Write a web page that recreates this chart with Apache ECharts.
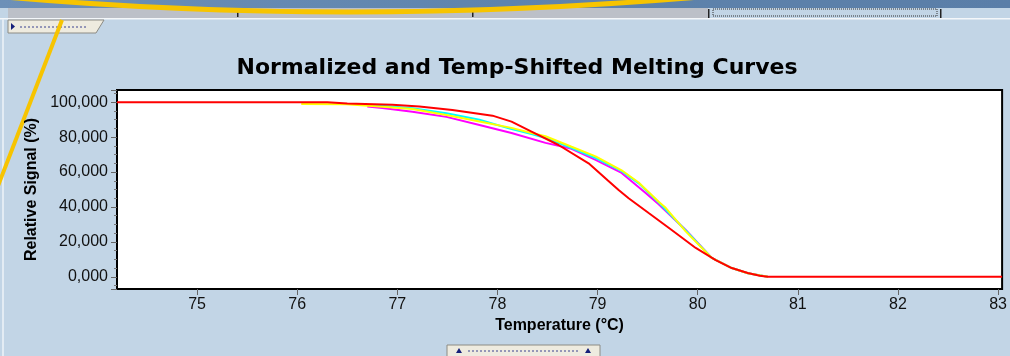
<!DOCTYPE html>
<html>
<head>
<meta charset="utf-8">
<script src="https://cdn.jsdelivr.net/npm/echarts@6/dist/echarts.min.js"></script>
<style>
html,body{margin:0;padding:0;background:#c2d5e6;}
#chart{width:1010px;height:356px;}
</style>
</head>
<body>
<div id="chart"></div>
<script>
// ---- data ----
var titleText = 'Normalized and Temp-Shifted Melting Curves';
var xAxisName = 'Temperature (\u00B0C)';
var yAxisName = 'Relative Signal (%)';

var redTemp   = [74.2, 76.3, 76.5, 76.95, 77.22, 77.55, 77.95, 78.14, 78.34, 78.61, 78.91, 79.1, 79.21, 79.31, 79.51, 79.74, 79.98, 80.18, 80.34, 80.5, 80.62, 80.7, 83.04];
var redSignal = [100, 100, 99.2, 98.6, 97.5, 95.6, 92.3, 88.9, 83.2, 75.5, 65, 55.3, 49.7, 45, 36.5, 26.8, 16.5, 9.6, 5.0, 2.2, 0.6, 0, 0];

var yellowTemp   = [76.04, 76.49, 76.82, 77.15, 77.49, 77.82, 78.14, 78.34, 78.48, 78.74, 78.98, 79.24, 79.41, 79.61, 79.68, 79.88, 80.14, 80.34, 80.5, 80.7];
var yellowSignal = [99, 98.9, 97.5, 96.1, 92.7, 88.9, 85.3, 82.4, 80.5, 74.5, 69, 61, 54, 43, 39.5, 26, 10.8, 5.0, 2.0, 0];

var cyanTemp   = [76.75, 77.15, 77.49, 77.82, 78.14, 78.34, 78.48, 78.74, 78.98, 79.24, 79.41, 79.61, 79.88, 80.14, 80.34, 80.5, 80.7];
var cyanSignal = [98.4, 96.5, 93.7, 90, 84.6, 81.8, 79.5, 73.8, 68, 60.5, 53.5, 42.5, 26.5, 10.8, 5.0, 2.0, 0];

var magentaTemp   = [76.7, 76.85, 77.15, 77.49, 77.82, 78.14, 78.48, 78.74, 78.98, 79.24, 79.48, 79.61, 79.88, 80.14, 80.34, 80.5, 80.7];
var magentaSignal = [97.5, 96.7, 94.6, 91.6, 87, 82.4, 76.7, 73.3, 67, 59.5, 48, 41.5, 26.8, 10.8, 5.0, 2.0, 0];

var xMin = 74.2, xMax = 83.04;
var yMin = -7, yMax = 107;

function pairs(xs, ys) { return xs.map(function (x, i) { return [x, ys[i]]; }); }
function lineSeries(name, xs, ys, color, w) {
  return {
    name: name, type: 'line', showSymbol: false, symbol: 'none',
    data: pairs(xs, ys),
    lineStyle: { color: color, width: w },
    animation: false
  };
}

var chart = echarts.init(document.getElementById('chart'), null, { renderer: 'canvas' });
var font = '"Liberation Sans", Arial, sans-serif';

chart.setOption({
  backgroundColor: '#c2d5e6',
  animation: false,
  title: {
    text: titleText,
    left: 512, top: 52, textAlign: 'center',
    textStyle: { fontFamily: '"DejaVu Sans", Verdana, sans-serif', fontWeight: 'bold', fontSize: 22, color: '#000' }
  },
  grid: {
    left: 117, right: 6, top: 90, bottom: 67,
    show: true, backgroundColor: '#ffffff', borderColor: '#000', borderWidth: 2
  },
  xAxis: {
    type: 'value', min: xMin, max: xMax, splitNumber: 9,
    name: xAxisName, nameLocation: 'middle', nameGap: 29,
    nameTextStyle: { fontFamily: font, fontWeight: 'bold', fontSize: 16, color: '#000' },
    axisLine: { show: true, onZero: false, lineStyle: { color: '#000', width: 2 } },
    axisTick: { show: true, length: 6, lineStyle: { color: '#666' } },
    axisLabel: { showMinLabel: false, showMaxLabel: false, margin: 8, fontFamily: font, fontSize: 16, color: '#111' },
    splitLine: { show: false }
  },
  yAxis: {
    type: 'value', min: yMin, max: yMax, splitNumber: 5,
    name: yAxisName, nameLocation: 'middle', nameGap: 75, nameRotate: 90,
    nameTextStyle: { fontFamily: font, fontWeight: 'bold', fontSize: 16, color: '#000' },
    axisLine: { show: true, onZero: false, lineStyle: { color: '#000', width: 2 } },
    axisTick: { show: true, length: 6, lineStyle: { color: '#666' } },
    minorTick: { show: true, splitNumber: 4, length: 3, lineStyle: { color: '#777' } },
    axisLabel: {
      showMinLabel: false, showMaxLabel: false, margin: 9,
      fontFamily: font, fontSize: 16, color: '#111',
      formatter: function (v) { return v.toFixed(3).replace('.', ','); }
    },
    splitLine: { show: false }
  },
  series: [
    lineSeries('magenta', magentaTemp, magentaSignal, '#ff00ff', 2),
    lineSeries('cyan', cyanTemp, cyanSignal, '#00ffff', 2),
    lineSeries('yellow', yellowTemp, yellowSignal, '#ffff00', 2),
    lineSeries('red', redTemp, redSignal, '#ff0000', 2)
  ],
  graphic: [
    { type: 'rect', shape: { x: 0, y: 0, width: 1010, height: 8 }, style: { fill: new echarts.graphic.LinearGradient(0, 0, 1, 0, [{ offset: 0, color: '#6d90b8' }, { offset: 0.5, color: '#5f84ad' }, { offset: 1, color: '#5a7ea8' }]) }, silent: true },
    { type: 'rect', shape: { x: 8, y: 8, width: 700, height: 10 }, style: { fill: '#bcc0c8' }, silent: true },
    { type: 'rect', shape: { x: 0, y: 18, width: 1010, height: 1.5 }, style: { fill: '#f4f7fa' }, silent: true },
    { type: 'rect', shape: { x: 237, y: 9, width: 1.5, height: 8 }, style: { fill: '#222' }, silent: true },
    { type: 'rect', shape: { x: 472, y: 9, width: 1.5, height: 8 }, style: { fill: '#222' }, silent: true },
    { type: 'rect', shape: { x: 708, y: 9, width: 1.5, height: 9 }, style: { fill: '#222' }, silent: true },
    { type: 'rect', shape: { x: 940, y: 9, width: 1.5, height: 9 }, style: { fill: '#222' }, silent: true },
    { type: 'rect', shape: { x: 713, y: 9, width: 224, height: 7 }, style: { fill: 'none', stroke: '#333', lineWidth: 1, lineDash: [1, 1] }, silent: true },
    { type: 'rect', shape: { x: 2, y: 19, width: 2, height: 337 }, style: { fill: '#e3ecf4' }, silent: true },
    { type: 'polygon', shape: { points: [[8, 20], [104, 20], [96, 33], [8, 33]] }, style: { fill: '#eeebdf', stroke: '#8c8b84', lineWidth: 1 }, silent: true },
    { type: 'polygon', shape: { points: [[11, 23], [11, 30], [15, 26.5]] }, style: { fill: '#16207a' }, silent: true },
    { type: 'line', shape: { x1: 20, y1: 27, x2: 88, y2: 27 }, style: { stroke: '#3a4290', lineWidth: 1, lineDash: [2, 2] }, silent: true },
    { type: 'rect', shape: { x: 447, y: 345, width: 153, height: 12 }, style: { fill: '#eeebdf', stroke: '#8c8b84', lineWidth: 1 }, silent: true },
    { type: 'polygon', shape: { points: [[456, 353], [462, 353], [459, 348]] }, style: { fill: '#16207a' }, silent: true },
    { type: 'polygon', shape: { points: [[585, 353], [591, 353], [588, 348]] }, style: { fill: '#16207a' }, silent: true },
    { type: 'line', shape: { x1: 468, y1: 351, x2: 580, y2: 351 }, style: { stroke: '#3a4290', lineWidth: 1, lineDash: [2, 2] }, silent: true },
    { type: 'bezierCurve', shape: { x1: 5, y1: -3, cpx1: 345, cpy1: 27, x2: 700, y2: -3 }, style: { fill: 'none', stroke: '#f7c400', lineWidth: 5 }, silent: true },
    { type: 'line', shape: { x1: 62, y1: 20, x2: -2, y2: 186 }, style: { stroke: '#f7c400', lineWidth: 4 }, silent: true }
  ]
});
</script>
</body>
</html>
